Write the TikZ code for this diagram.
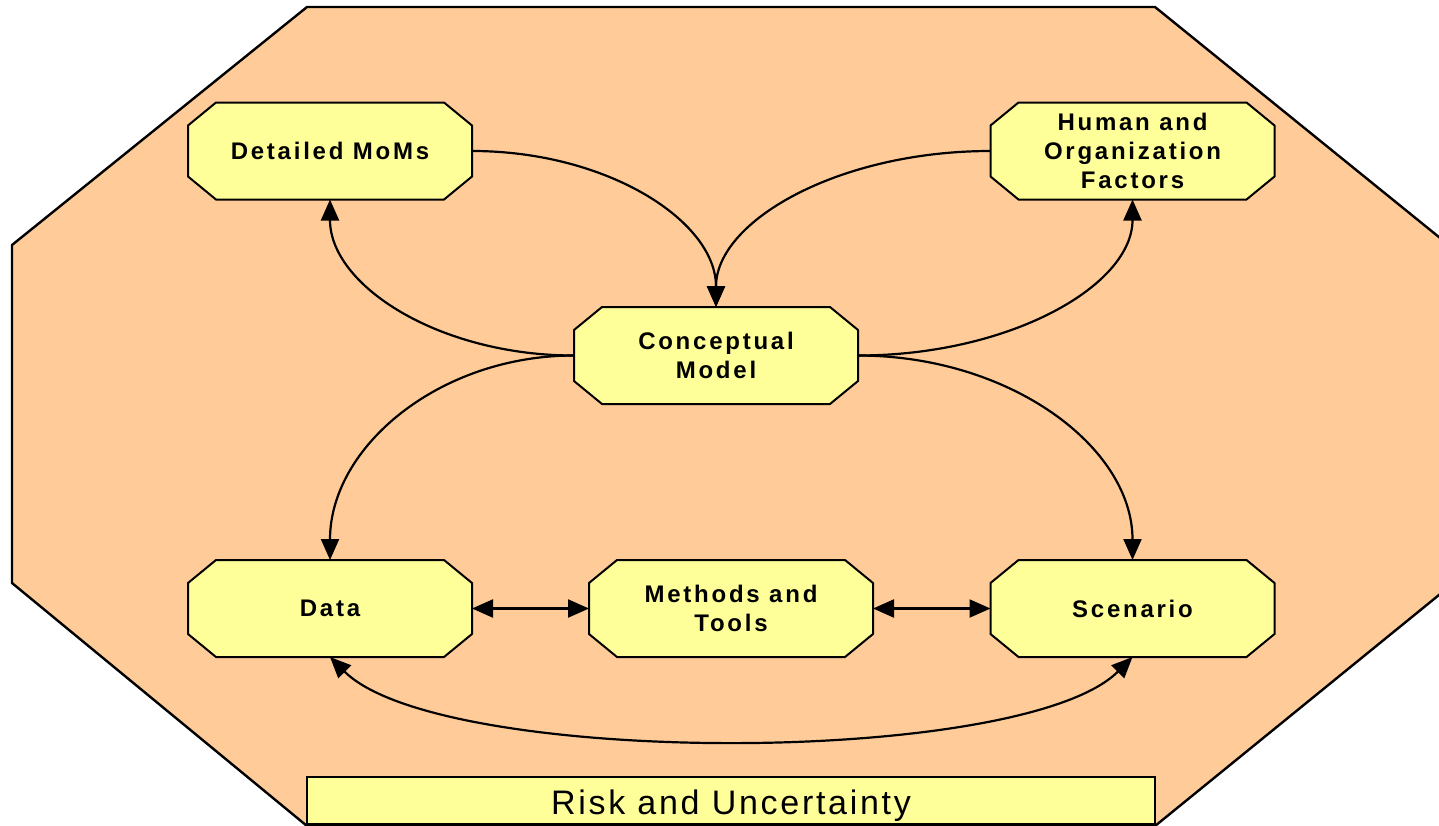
\documentclass[tikz,border=0pt]{standalone}
\usepackage{fontspec}
\setmainfont{Liberation Sans}
\newfontfamily\boxfont[LetterSpace=11.5]{Liberation Sans}
\newfontfamily\riskfont[LetterSpace=8]{Liberation Sans}
\usetikzlibrary{arrows.meta}
\definecolor{peach}{HTML}{FFCC99}
\definecolor{pale}{HTML}{FFFF99}
\pgfdeclarelayer{bg}
\pgfdeclarelayer{mid}
\pgfsetlayers{bg,mid,main}
\tikzset{
  box/.style={draw=none, minimum width=142pt, minimum height=48.5pt, inner sep=0pt, outer sep=0pt,
    align=center, font=\boxfont\bfseries\fontsize{12}{14.5}\selectfont},
  boxline/.style={draw=black, fill=pale, line width=1pt, line join=miter},
  conn/.style={line width=1.1pt, -{Triangle[length=10.5pt,width=9pt]}},
  conn2/.style={line width=1.1pt, {Triangle[length=10.5pt,width=9pt]}-{Triangle[length=10.5pt,width=9pt]}},
}
\newcommand\chamfer[1]{%
  \path[boxline] ([xshift=14pt]#1.north west) -- ([xshift=-14pt]#1.north east)
    -- ([yshift=-11.5pt]#1.north east) -- ([yshift=11.5pt]#1.south east)
    -- ([xshift=-14pt]#1.south east) -- ([xshift=14pt]#1.south west)
    -- ([yshift=11.5pt]#1.south west) -- ([yshift=-11.5pt]#1.north west) -- cycle;}
\begin{document}
\begin{tikzpicture}[x=0.5pt,y=-0.5pt]
\useasboundingbox (0,0) rectangle (1439,825);
\clip (0,0) rectangle (1439,825);
\begin{pgfonlayer}{bg}
\path[draw=black, fill=peach, line width=1.2pt, line join=miter]
  (307,7) -- (1155,7) -- (1450,246) -- (1450,586) -- (1155,826) -- (307,826) -- (12,583) -- (12,245) -- cycle;
\end{pgfonlayer}
% nodes
\node[box] (dm) at (330,151) {Detailed MoMs};
\node[box] (hf) at (1132.5,151) {Human and\\Organization\\Factors};
\node[box] (cm) at (716,355.5) {Conceptual\\Model};
\node[box] (da) at (330,608.5) {Data};
\node[box] (mt) at (731,608.5) {Methods and\\Tools};
\node[box] (sc) at (1132.5,608.5) {Scenario};
\node[draw=black, fill=pale, line width=1pt, minimum width=424pt, minimum height=23.5pt, inner sep=0pt, outer sep=0pt,
  font=\riskfont\fontsize{17}{19}\selectfont, text depth=0pt] (ru) at (731,800.5) {\raisebox{-2pt}{Risk and Uncertainty}};
\begin{pgfonlayer}{mid}
\chamfer{dm}\chamfer{hf}\chamfer{cm}\chamfer{da}\chamfer{mt}\chamfer{sc}
\end{pgfonlayer}
% connectors
\draw[conn] (dm.east) .. controls +(135,0) and +(0,-86) .. (cm.north);
\draw[conn] (hf.west) .. controls +(-152,0) and +(0,-86) .. (cm.north);
\draw[conn] (cm.west) .. controls +(-135,0) and +(0,86) .. (dm.south);
\draw[conn] (cm.east) .. controls +(152,0) and +(0,86) .. (hf.south);
\draw[conn] (cm.west) .. controls +(-135,0) and +(0,-113) .. (da.north);
\draw[conn] (cm.east) .. controls +(152,0) and +(0,-113) .. (sc.north);
\draw[conn2] (da.east) -- (mt.west);
\draw[conn2] (mt.east) -- (sc.west);
\draw[conn2] (da.south) .. controls +(110,110) and +(-110,110) .. (sc.south);
\end{tikzpicture}
\end{document}
